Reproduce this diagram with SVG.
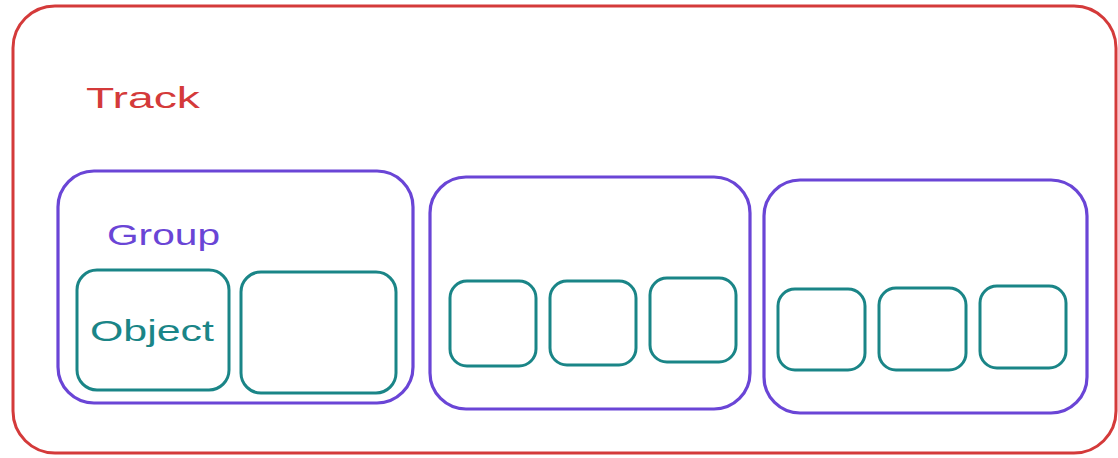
<svg xmlns="http://www.w3.org/2000/svg" width="1118" height="458" viewBox="0 0 1118 458">
<style>
.track{fill:none;stroke:#d43a3a;stroke-width:3}
.group{fill:none;stroke:#6a45d6;stroke-width:3.2}
.obj{fill:none;stroke:#1a8587;stroke-width:3}
.t{font-family:"Liberation Sans",Arial,sans-serif;font-size:30px}
</style>
<rect width="1118" height="458" fill="#ffffff"/>
<g id="track">
<rect class="track" x="13" y="6" width="1103" height="447" rx="42"/>
<text class="t" x="86" y="108" fill="#d43a3a" textLength="114" lengthAdjust="spacingAndGlyphs">Track</text>
</g>
<g id="group1">
<rect class="group" x="58" y="171" width="355" height="232" rx="36"/>
<text class="t" x="107" y="245" fill="#6a45d6" textLength="113" lengthAdjust="spacingAndGlyphs">Group</text>
</g>
<g id="group2"><rect class="group" x="430" y="177" width="320" height="232" rx="36"/></g>
<g id="group3"><rect class="group" x="764" y="180" width="323" height="233" rx="36"/></g>
<g id="object1">
<rect class="obj" x="77" y="270" width="152" height="120" rx="20"/>
<text class="t" x="90" y="341" fill="#1a8587" textLength="124" lengthAdjust="spacingAndGlyphs">Object</text>
</g>
<g id="object2"><rect class="obj" x="241" y="272" width="155" height="121" rx="20"/></g>
<g id="object3"><rect class="obj" x="450" y="281" width="86" height="85" rx="17"/></g>
<g id="object4"><rect class="obj" x="550" y="281" width="86" height="84" rx="17"/></g>
<g id="object5"><rect class="obj" x="650" y="278" width="86" height="84" rx="17"/></g>
<g id="object6"><rect class="obj" x="778" y="289" width="87" height="81" rx="17"/></g>
<g id="object7"><rect class="obj" x="879" y="288" width="87" height="82" rx="17"/></g>
<g id="object8"><rect class="obj" x="980" y="286" width="86" height="82" rx="17"/></g>
<g id="connectors"></g>
</svg>
